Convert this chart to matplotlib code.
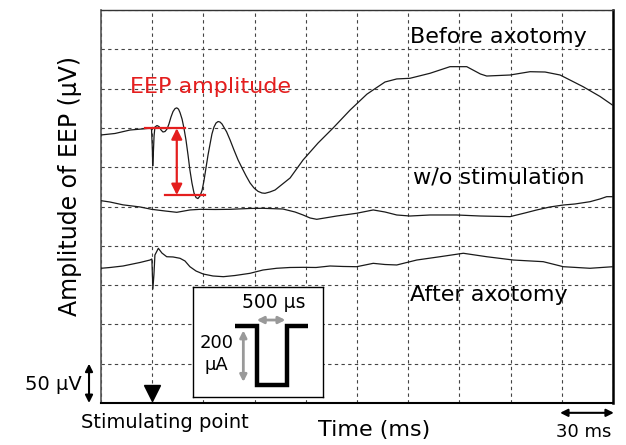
#!/usr/bin/env python3

import matplotlib.pyplot as plt
import numpy as np

# EEP traces, time in ms and amplitude in uV (traces are offset on a shared axis)
before_t = [0, 8.2, 17.0, 28.7, 29.6, 30.1, 30.3, 30.6, 31.1, 31.6, 32.8, 34.0,
            35.2, 36.3, 37.5, 38.7, 39.8, 41.0, 42.2, 43.4, 44.4, 45.4, 46.3,
            47.5, 48.6, 49.8, 51.0, 52.1, 53.3, 54.5, 55.7, 56.8, 58.0, 59.2,
            60.3, 61.5, 62.7, 63.9, 65.0, 66.2, 67.4, 68.6, 69.7, 70.9, 72.1,
            73.6, 75.6, 77.9, 80.3, 82.6, 85.0, 87.3, 89.6, 92.0, 94.3, 96.1,
            99.0, 102.0, 110.8, 118.4, 127.2, 136.0, 146.0, 155.8, 159.4, 166.4,
            173.3, 181.0, 192.8, 204.5, 214.3, 222.3, 226.0, 239.7, 251.4, 260.2,
            269.0, 282.5, 292.4, 300]
before_v = [341.0, 342.9, 347.3, 349.5, 348.6, 321.9, 301.5, 314.3, 340.0, 351.1,
            353.0, 351.7, 347.3, 344.8, 345.4, 348.6, 354.9, 363.8, 370.8, 374.6,
            375.5, 373.9, 369.5, 361.2, 349.8, 334.5, 315.4, 296.3, 279.8, 267.1,
            261.3, 260.1, 263.3, 270.3, 282.4, 298.9, 315.4, 329.5, 342.2, 351.1,
            356.2, 358.1, 357.5, 355.0, 350.5, 345.0, 334.8, 322.0, 309.3, 299.2,
            289.0, 280.1, 273.7, 269.3, 267.2, 266.8, 268.5, 271.0, 286.3, 309.2,
            330.8, 349.9, 372.8, 392.9, 398.2, 408.4, 412.3, 413.1, 419.5, 427.9,
            427.9, 418.6, 416.0, 417.3, 421.5, 421.1, 417.3, 402.4, 390.0, 378.6]

nostim_t = [0, 5.3, 12.9, 22.9, 29.7, 37.5, 44.4, 52.1, 58.0, 66.8, 75.6, 87.3,
            94.9, 106.6, 113.7, 118.4, 122.5, 126.4, 131.2, 138.1, 149.8, 159.5,
            166.4, 173.3, 181.0, 192.8, 208.4, 222.3, 239.7, 248.5, 255.3, 263.1,
            270.9, 277.7, 286.5, 292.4, 296.3, 300]
nostim_v = [257.4, 255.7, 252.1, 249.4, 246.4, 244.3, 242.6, 245.6, 246.4, 246.2,
            246.4, 247.5, 247.7, 246.8, 243.0, 239.2, 235.4, 233.7, 235.4, 237.9,
            241.4, 245.6, 243.0, 239.2, 237.9, 239.2, 239.2, 237.9, 237.1, 241.8,
            245.6, 249.4, 251.9, 253.2, 256.1, 259.6, 262.5, 262.5]

after_t = [0, 5.3, 12.9, 22.9, 28.7, 29.8, 30.4, 31.0, 31.6, 33.6, 35.7, 38.5,
           42.2, 46.3, 49.2, 52.1, 55.7, 59.9, 65.6, 71.7, 78.5, 87.3, 94.9,
           102.9, 110.7, 118.5, 126.0, 134.2, 141.8, 149.8, 159.5, 166.4, 173.3,
           185.0, 198.6, 212.3, 226.0, 241.6, 259.1, 270.9, 286.5, 300]
after_v = [171.4, 172.4, 174.3, 178.8, 181.9, 183.2, 145.0, 162.9, 188.3, 196.8,
           190.8, 186.1, 185.8, 184.1, 180.7, 173.4, 167.9, 164.1, 161.6, 160.7,
           162.2, 165.0, 169.2, 171.4, 172.4, 172.6, 172.4, 174.3, 173.7, 173.4,
           177.7, 176.2, 175.6, 181.9, 186.1, 190.5, 186.1, 181.9, 179.8, 173.4,
           171.4, 173.4]

stim_time = 30          # ms
scale_ms = 30           # one grid division
scale_uv = 50
eep_top = 349.5         # baseline before the EEP
eep_bottom = 264.6      # EEP trough

# stimulation pulse sketch (us, uA)
pulse_t = [-360, 0, 0, 500, 500, 860]
pulse_i = [0, 0, -200, -200, 0, 0]

RED = "#e41e1e"
W, H = 626, 445

fig = plt.figure(figsize=(W / 100, H / 100), dpi=100)
ax = fig.add_axes([101 / W, 1 - 403 / H, 512 / W, 393 / H])
ax.set_xlim(0, 300)
ax.set_ylim(0, 500)
ax.set_xticks(np.arange(0, 301, scale_ms))
ax.set_yticks(np.arange(0, 501, scale_uv))
ax.tick_params(length=0, labelbottom=False, labelleft=False)
ax.grid(True, color="#444444", linestyle=(0, (3, 3)), linewidth=0.8)

ax.spines["left"].set(color="#555555", linewidth=1.2)
ax.spines["top"].set(color="#333333", linewidth=1.0)
ax.spines["right"].set(color="black", linewidth=1.8)
ax.spines["bottom"].set(color="black", linewidth=1.5)

for t, v in [(before_t, before_v), (nostim_t, nostim_v), (after_t, after_v)]:
    ax.plot(t, v, color="#1a1a1a", linewidth=0.9, zorder=3)

ax.text(181, 466, "Before axotomy", fontsize=16, va="center")
ax.text(183, 287, "w/o stimulation", fontsize=16, va="center")
ax.text(181, 137, "After axotomy", fontsize=16, va="center")

# EEP amplitude markers
ax.text(17, 402, "EEP amplitude", fontsize=16, color=RED, va="center")
ax.plot([25.8, 49.2], [eep_top, eep_top], color=RED, lw=1.6, zorder=4)
ax.plot([37.5, 60.9], [eep_bottom, eep_bottom], color=RED, lw=1.6, zorder=4)
ax.annotate("", xy=(44.4, eep_bottom), xytext=(44.4, eep_top),
            arrowprops=dict(arrowstyle="<|-|>", color=RED, lw=1.6,
                            mutation_scale=16, shrinkA=0, shrinkB=0), zorder=4)

# stimulating point marker
ax.plot([stim_time], [13], marker="v", markersize=12, color="black",
        clip_on=False, zorder=5)
fig.text(165 / W, 1 - 422 / H, "Stimulating point", fontsize=14,
         ha="center", va="center")

# scale bars
ax.annotate("", xy=(300.5, -0.025), xytext=(300 - scale_ms - 1, -0.025),
            xycoords=ax.get_xaxis_transform(),
            arrowprops=dict(arrowstyle="<|-|>", color="black", lw=1.5,
                            mutation_scale=11, shrinkA=0, shrinkB=0))
fig.text(584 / W, 1 - 432 / H, "30 ms", fontsize=13, ha="center", va="center")

ax.annotate("", xy=(-0.0234, 0), xytext=(-0.0234, scale_uv),
            xycoords=ax.get_yaxis_transform(),
            arrowprops=dict(arrowstyle="<|-|>", color="black", lw=1.5,
                            mutation_scale=11, shrinkA=0, shrinkB=0))
fig.text(82 / W, 1 - 385 / H, "50 \u03bcV", fontsize=14, ha="right", va="center")

fig.text(374 / W, 1 - 430 / H, "Time (ms)", fontsize=16, ha="center", va="center")
fig.text(70 / W, 1 - 186 / H, "Amplitude of EEP (\u03bcV)", fontsize=17,
         ha="center", va="center", rotation=90)

# inset with the stimulation pulse
ins = fig.add_axes([193.3 / W, 1 - 396.7 / H, 130 / W, 110 / H])
ins.set_xlim(-1057, 1110)
ins.set_ylim(-240, 133)
ins.set_xticks([])
ins.set_yticks([])
for s in ins.spines.values():
    s.set(color="black", linewidth=1.0)
ins.plot(pulse_t, pulse_i, color="black", lw=3.2,
         solid_joinstyle="miter", solid_capstyle="butt")
ins.annotate("", xy=(480, 20), xytext=(0, 20),
             arrowprops=dict(arrowstyle="<|-|>", color="#999999", lw=2,
                             mutation_scale=10, shrinkA=0, shrinkB=0))
ins.annotate("", xy=(-223, -190), xytext=(-223, -15),
             arrowprops=dict(arrowstyle="<|-|>", color="#999999", lw=2,
                             mutation_scale=10, shrinkA=0, shrinkB=0))
ins.text(288, 78, "500 \u03bcs", fontsize=13.5, ha="center", va="center")
ins.text(-670, -96, "200\n\u03bcA", fontsize=13, ha="center", va="center",
         linespacing=1.3)

fig.savefig("out.png", dpi=100)
